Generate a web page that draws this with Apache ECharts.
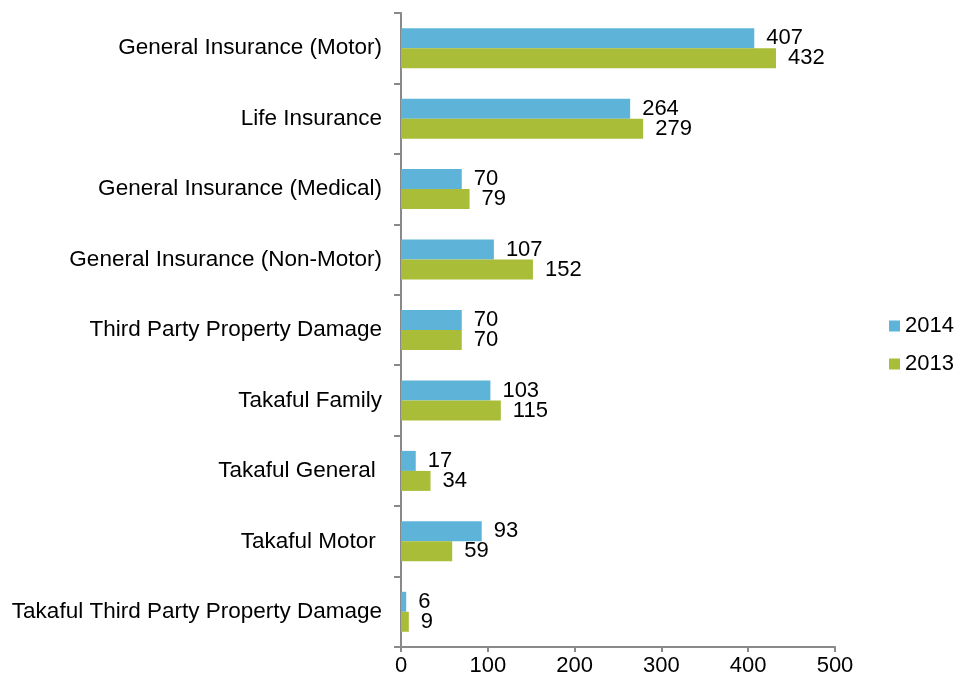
<!DOCTYPE html>
<html>
<head>
<meta charset="utf-8">
<script src="https://cdn.jsdelivr.net/npm/echarts@6/dist/echarts.min.js"></script>
<style>
  html, body { margin: 0; padding: 0; background: #fff; }
  #chart { width: 959px; height: 682px; }
</style>
</head>
<body>
<div id="chart"></div>
<script>
// categories, top to bottom
var categories = [
    'General Insurance (Motor)',
    'Life Insurance',
    'General Insurance (Medical)',
    'General Insurance (Non-Motor)',
    'Third Party Property Damage',
    'Takaful Family',
    'Takaful General ',
    'Takaful Motor ',
    'Takaful Third Party Property Damage'
];
var values2014 = [407, 264, 70, 107, 70, 103, 17, 93, 6];
var values2013 = [432, 279, 79, 152, 70, 115, 34, 59, 9];
var seriesNames = ['2014', '2013'];
var xTicks = [0, 100, 200, 300, 400, 500];

var FONT = 'Liberation Sans, Arial, sans-serif';
var axisGray = '#898989';

var chart = echarts.init(document.getElementById('chart'));

function barSeries(name, data, color) {
    return {
        name: name,
        type: 'bar',
        data: data,
        barWidth: 20,
        barGap: '0%',
        itemStyle: { color: color },
        label: {
            show: true,
            position: 'right',
            distance: 12,
            color: '#000',
            fontFamily: FONT,
            fontSize: 22
        }
    };
}

chart.setOption({
    animation: false,
    backgroundColor: '#fff',
    textStyle: { fontFamily: FONT },
    grid: { left: 401, right: 124, top: 13, bottom: 35, containLabel: false },
    legend: {
        orient: 'vertical',
        left: 884,
        top: 310,
        icon: 'rect',
        itemWidth: 11,
        itemHeight: 11,
        itemGap: 16,
        textStyle: { fontFamily: FONT, fontSize: 22, color: '#000' },
        data: seriesNames
    },
    xAxis: {
        type: 'value',
        min: xTicks[0],
        max: xTicks[xTicks.length - 1],
        interval: 100,
        axisLine: { show: true, lineStyle: { color: axisGray, width: 2 } },
        axisTick: { show: true, length: 5, lineStyle: { color: axisGray, width: 2 } },
        axisLabel: { color: '#000', fontFamily: FONT, fontSize: 22, margin: 8 },
        splitLine: { show: false }
    },
    yAxis: {
        type: 'category',
        inverse: true,
        data: categories,
        axisLine: { show: true, lineStyle: { color: axisGray, width: 2 } },
        axisTick: { show: true, length: 7, lineStyle: { color: axisGray, width: 2 } },
        axisLabel: { color: '#000', fontFamily: FONT, fontSize: 22.5, margin: 19, padding: [3, 0, 0, 0] }
    },
    series: [
        barSeries(seriesNames[0], values2014, '#5EB4D8'),
        barSeries(seriesNames[1], values2013, '#A9BD38')
    ]
});
</script>
</body>
</html>
